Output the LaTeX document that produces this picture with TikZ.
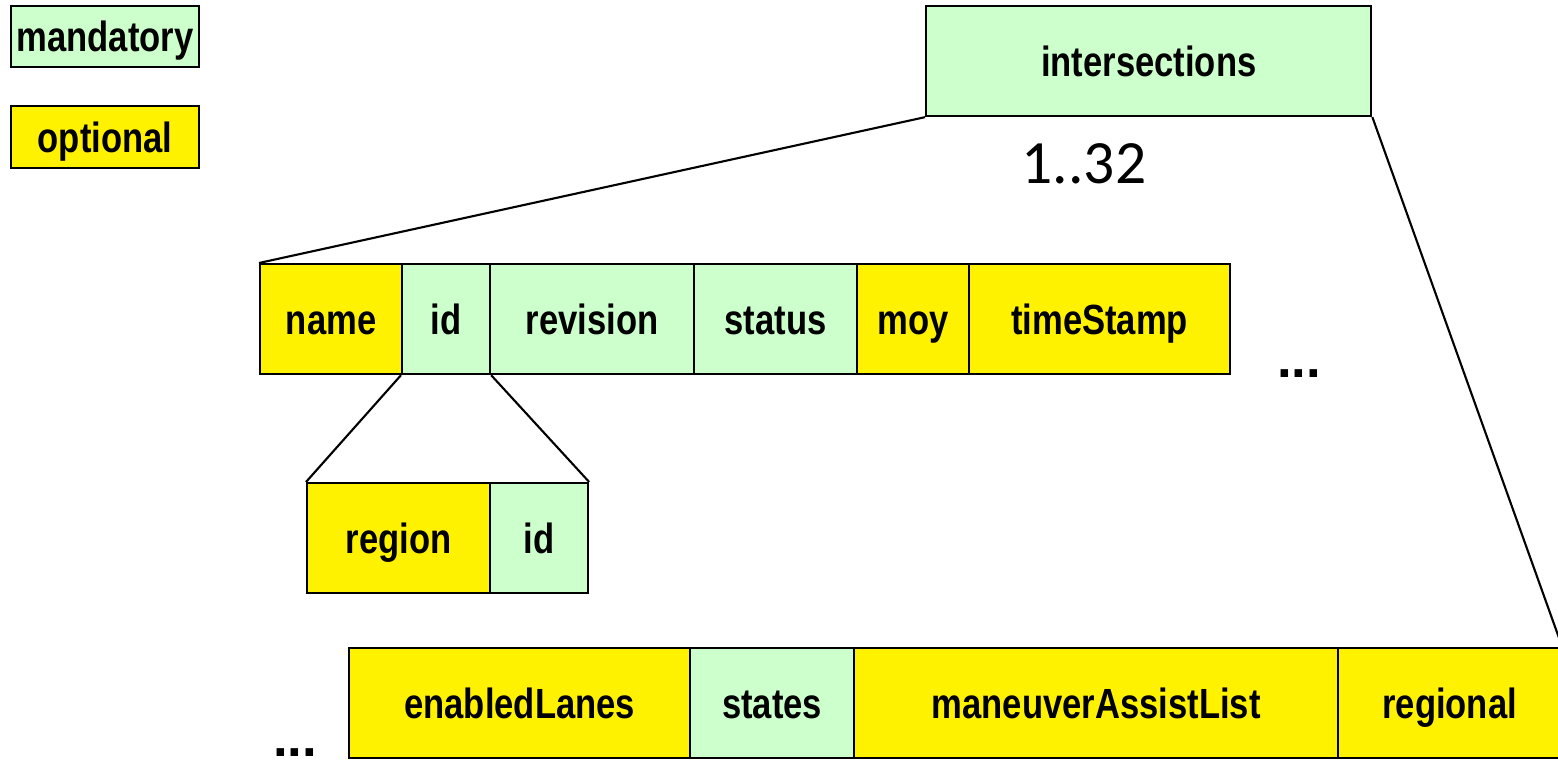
\documentclass[tikz,border=0pt]{standalone}
\usepackage{fontspec}
\setmainfont{Liberation Sans}[FakeStretch=0.82]
\newfontfamily\countfont{Carlito}
\newfontfamily\dotfont{Liberation Sans}
\definecolor{mintgreen}{HTML}{CCFFCC}
\tikzstyle{field}=[rectangle,draw=black,line width=0.6pt,anchor=north west,inner sep=0pt,minimum height=1.10cm,text height=10pt,text depth=1.5pt,font=\fontsize{12}{14}\selectfont\bfseries]
\tikzstyle{mand}=[field,fill=mintgreen]
\tikzstyle{opt}=[field,fill=yellow]
\tikzstyle{dots}=[anchor=base,inner sep=0pt,text height=3pt,text depth=0pt,font=\dotfont\fontsize{15}{17}\selectfont\bfseries]

\begin{document}
\begin{tikzpicture}[x=0.01cm,y=-0.01cm]
\useasboundingbox (0,0) rectangle (1558,761);
% legend
\node[mand,minimum width=1.88cm,minimum height=0.61cm] at (10,5) (legmand) {mandatory};
\node[opt,minimum width=1.88cm,minimum height=0.62cm] at (10,105) (legopt) {optional};
% top
\node[mand,minimum width=4.45cm] at (925,5) (inter) {intersections};
\node[font=\countfont\fontsize{17.5}{20}\selectfont] at (1084,164) (mult) {1..32};
% first row
\node[opt,minimum width=1.42cm] at (259,263) (name) {name};
\node[mand,minimum width=0.88cm] at (401,263) (id) {id};
\node[mand,minimum width=2.04cm] at (489,263) (revision) {revision};
\node[mand,minimum width=1.63cm] at (693,263) (status) {status};
\node[opt,minimum width=1.12cm] at (856,263) (moy) {moy};
\node[opt,minimum width=2.61cm] at (968,263) (timestamp) {timeStamp};
\node[dots] at (1299,377) (more1) {...};
% id
\node[opt,minimum width=1.83cm] at (306,482) (region) {region};
\node[mand,minimum width=0.98cm] at (489,482) (regid) {id};
% last row
\node[opt,minimum width=3.41cm] at (348,647) (lanes) {enabledLanes};
\node[mand,minimum width=1.64cm] at (689,647) (states) {states};
\node[opt,minimum width=4.84cm] at (853,647) (assist) {maneuverAssistList};
\node[opt,minimum width=2.23cm] at (1337,647) (regional) {regional};
\node[dots] at (295,756) (more2) {...};
% connectors
\draw[line width=0.6pt] (inter.south west) -- (name.north west);
\draw[line width=0.6pt] (inter.south east) -- (regional.north east);
\draw[line width=0.6pt] (id.south west) -- (region.north west);
\draw[line width=0.6pt] (id.south east) -- (regid.north east);
\end{tikzpicture}
\end{document}
